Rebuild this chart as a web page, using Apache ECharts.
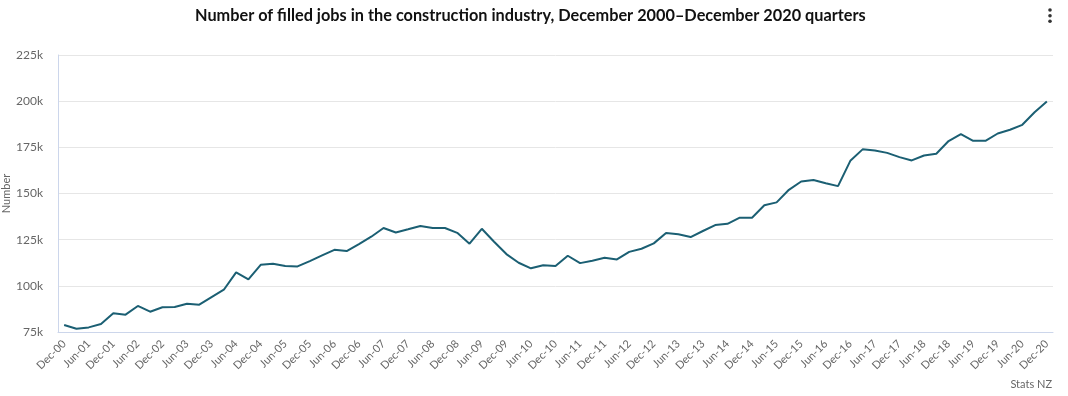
<!DOCTYPE html>
<html><head><meta charset="utf-8">
<script src="https://cdn.jsdelivr.net/npm/echarts@6/dist/echarts.min.js"></script>
<style>html,body{margin:0;padding:0;background:#fff}#c{width:1068px;height:396px}</style>
</head><body><div id="c"></div>
<script>
const titleText = 'Number of filled jobs in the construction industry, December 2000–December 2020 quarters';
const yTicks = [75000, 100000, 125000, 150000, 175000, 200000, 225000];
const quarterMonths = ['Mar', 'Jun', 'Sep', 'Dec'];
const categories = ['Dec-00'];
for (let y = 1; y <= 20; y++) {
  for (const m of quarterMonths) categories.push(m + '-' + String(y).padStart(2, '0'));
}
const filledJobs = [
  78800, 76800, 77500, 79300, 85100, 84400, 89100, 86000, 88400, 88500,
  90300, 89800, 93900, 97900, 107300, 103500, 111400, 112000, 110700, 110500,
  113400, 116500, 119500, 118800, 122600, 126600, 131300, 128900, 130600, 132400,
  131300, 131300, 128700, 122800, 130900, 123900, 117200, 112500, 109500, 111100,
  110700, 116300, 112300, 113600, 115200, 114300, 118400, 120100, 123000, 128600,
  127900, 126400, 129700, 132900, 133600, 136900, 136900, 143600, 145200, 152000,
  156500, 157300, 155600, 154000, 167700, 173900, 173300, 172000, 169700, 167900,
  170600, 171500, 178400, 182100, 178500, 178500, 182500, 184500, 187200, 194000,
  199800
];
const font = 'Lato, "Open Sans", sans-serif';
const chart = echarts.init(document.getElementById('c'));
chart.setOption({
  animation: false,
  title: {
    text: titleText, left: 190, top: 3,
    textStyle: { fontFamily: font, fontWeight: 'bold', fontSize: 16.3, color: '#111' }
  },
  grid: { left: 58, right: 15, top: 55, bottom: 64, outerBoundsMode: 'none', containLabel: false },
  xAxis: {
    type: 'category', data: categories, boundaryGap: true,
    axisLine: { lineStyle: { color: '#ccd6eb' } },
    axisTick: { alignWithLabel: true, interval: 1, length: 8, lineStyle: { color: '#ccd6eb' } },
    axisLabel: { interval: 1, rotate: 45, margin: 10, fontFamily: font, fontSize: 11, color: '#666' }
  },
  yAxis: {
    type: 'value', min: yTicks[0], max: yTicks[yTicks.length - 1], interval: 25000,
    name: 'Number', nameLocation: 'middle', nameGap: 46, nameRotate: 90, nameMoveOverlap: false,
    nameTextStyle: { fontFamily: font, fontSize: 11, color: '#666' },
    axisLine: { show: true, lineStyle: { color: '#ccd6eb' } },
    axisTick: { show: false },
    splitLine: { lineStyle: { color: '#e6e6e6' } },
    axisLabel: { margin: 15, fontFamily: font, fontSize: 12, color: '#666',
      formatter: v => (v / 1000) + 'k' }
  },
  series: [{
    type: 'line', data: filledJobs, symbol: 'none',
    lineStyle: { color: '#1b5f73', width: 2 }
  }],
  graphic: [
    { type: 'text', right: 16, bottom: 6, style: { text: 'Stats NZ', fontFamily: font, fontSize: 11, fill: '#666' } },
    { type: 'circle', shape: { cx: 1050, cy: 10, r: 1.8 }, style: { fill: '#333' } },
    { type: 'circle', shape: { cx: 1050, cy: 15.7, r: 1.8 }, style: { fill: '#333' } },
    { type: 'circle', shape: { cx: 1050, cy: 21.3, r: 1.8 }, style: { fill: '#333' } }
  ]
});
</script></body></html>
